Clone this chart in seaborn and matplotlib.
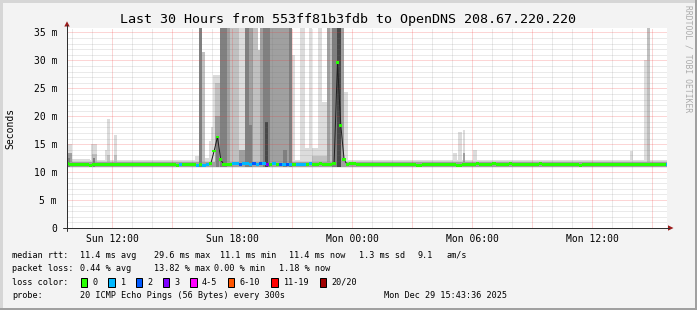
import numpy as np
import pandas as pd
import matplotlib
matplotlib.use("Agg")
import matplotlib.pyplot as plt
from matplotlib.lines import Line2D
from matplotlib.patches import Rectangle, Polygon
from matplotlib.ticker import MultipleLocator, FuncFormatter
import seaborn as sns

# ---------------- data ----------------
title = "Last 30 Hours from 553ff81b3fdb to OpenDNS 208.67.220.220"
start_hour = -14.25          # first sample, hours relative to Mon 00:00
step_hours = 1 / 6           # 10-minute samples
x_range = [-14.273, 15.727]  # Sun 09:43:36 .. Mon 15:43:36

median_ms = [
    11.6, 11.4, 11.3, 11.3, 11.4, 11.3, 11.3, 11.2, 11.3, 11.3, 11.4, 11.3, 11.3, 11.3, 11.3, 11.4, 11.3, 11.4,
    11.4, 11.4, 11.3, 11.4, 11.4, 11.4, 11.3, 11.4, 11.3, 11.4, 11.3, 11.3, 11.4, 11.3, 11.3, 11.2, 11.3, 11.3,
    11.3, 11.3, 11.4, 11.2, 11.3, 11.2, 11.3, 11.5, 13.8, 16.3, 12.2, 11.3, 11.4, 11.4, 11.5, 11.5, 11.4, 11.5,
    11.5, 11.4, 11.5, 11.4, 11.5, 11.5, 11.4, 11.4, 11.5, 11.4, 11.4, 11.3, 11.3, 11.3, 11.4, 11.3, 11.3, 11.3,
    11.4, 11.5, 11.4, 11.4, 11.5, 11.4, 11.4, 11.4, 11.6, 29.6, 18.4, 12.2, 11.3, 11.6, 11.5, 11.4, 11.4, 11.4,
    11.4, 11.3, 11.4, 11.4, 11.4, 11.3, 11.4, 11.4, 11.4, 11.4, 11.3, 11.4, 11.3, 11.4, 11.4, 11.2, 11.2, 11.3,
    11.3, 11.4, 11.4, 11.3, 11.4, 11.4, 11.3, 11.4, 11.3, 11.2, 11.2, 11.3, 11.4, 11.4, 11.4, 11.5, 11.4, 11.4,
    11.4, 11.4, 11.5, 11.4, 11.4, 11.4, 11.4, 11.5, 11.4, 11.4, 11.4, 11.3, 11.4, 11.4, 11.4, 11.4, 11.5, 11.4,
    11.4, 11.4, 11.3, 11.4, 11.4, 11.4, 11.3, 11.4, 11.4, 11.4, 11.2, 11.3, 11.4, 11.4, 11.3, 11.4, 11.4, 11.4,
    11.4, 11.4, 11.3, 11.4, 11.4, 11.4, 11.4, 11.3, 11.4, 11.4, 11.4, 11.4, 11.4, 11.3, 11.4, 11.4, 11.4, 11.4, 11.4,
]

loss_count = [
    0, 0, 0, 0, 0, 0, 0, 0, 0, 0, 0, 0, 0, 0, 0, 0, 0, 0,
    0, 0, 0, 0, 0, 0, 0, 0, 0, 0, 0, 0, 0, 0, 0, 0, 1, 0,
    0, 0, 0, 1, 0, 1, 1, 0, 0, 0, 0, 0, 0, 0, 1, 1, 2, 1,
    1, 1, 2, 1, 2, 1, 3, 0, 1, 0, 2, 1, 2, 1, 0, 1, 1, 1,
    0, 1, 0, 0, 0, 0, 0, 0, 0, 0, 0, 0, 0, 0, 0, 0, 0, 0,
    0, 0, 0, 0, 0, 0, 0, 0, 0, 0, 0, 0, 0, 0, 0, 0, 0, 0,
    0, 0, 0, 0, 0, 0, 0, 0, 0, 0, 0, 0, 0, 0, 0, 0, 0, 0,
    0, 0, 0, 0, 0, 0, 0, 0, 0, 0, 0, 0, 0, 0, 0, 0, 0, 0,
    0, 0, 0, 0, 0, 0, 0, 0, 0, 0, 0, 0, 0, 0, 0, 0, 0, 0,
    0, 0, 0, 0, 0, 0, 0, 0, 0, 0, 0, 0, 0, 0, 0, 0, 0, 0, 1,
]

# smoke stripes: time span (hours), top of ping spread (ms), density layer (1 = sparse .. 5 = dense)
smoke_floor_ms = 10.9
smoke_start_h = [-14.275, -14.275,
                 -14.275, -14.275, -14.275, -14.025, -13.075, -13.025, -12.975,
                 -12.375, -12.275, -12.275, -11.925, -11.925, -7.875,
                 -7.675, -7.5, -7.375, -7.175, -7.075, -6.975, -6.875, -6.875, -6.825,
                 -6.625, -6.275, -6.125, -6.025, -5.675, -5.675, -5.375, -5.175, -4.975,
                 -4.725, -4.625, -4.475, -4.125, -3.725, -3.475, -3.175, -5.175, -4.375,
                 -3.475, -3.0, -2.875, -2.525,
                 -2.625, -2.375, -2.175, -2.025, -2.025, -1.725, -1.525, -1.275, -1.125,
                 -1.025, -0.775, -0.575, -0.425,
                 5.025, 5.275, 5.525, 5.525, 6.025, 13.875, 14.575, 14.725]
smoke_end_h = [15.727, 15.727,
               -14.025, -14.025, -14.125, -13.125, -12.775, -12.775, -12.875,
               -12.275, -12.125, -12.125, -11.775, -11.775, -7.675,
               -7.5, -7.375, -7.175, -7.075, -6.975, -6.625, -6.625, -6.625, -6.675,
               -6.275, -6.125, -6.025, -5.675, -5.375, -5.375, -5.175, -4.975, -4.725,
               -4.625, -4.475, -4.125, -3.725, -3.175, -3.325, -3.0, -5.025, -4.225,
               -3.275, -2.875, -2.525, -2.375,
               -2.375, -2.175, -2.025, -1.725, -1.125, -1.525, -1.275, -1.125, -1.025,
               -0.775, -0.575, -0.425, -0.225,
               5.225, 5.475, 5.625, 5.625, 6.225, 14.025, 14.725, 14.875]
smoke_top_ms = [12.2, 11.85,
                15.0, 13.5, 12.5, 12.3, 15.0, 13.2, 12.5,
                14.0, 19.5, 13.0, 16.6, 13.0, 12.8,
                36.0, 31.5, 12.5, 15.5, 18.0, 27.3, 26.0, 20.0, 16.5,
                36.0, 36.0, 36.0, 36.0, 36.0, 14.0, 36.0, 36.0, 36.0,
                31.8, 36.0, 36.0, 36.0, 36.0, 36.0, 36.0, 18.4, 19.0,
                14.0, 31.0, 12.2, 36.0,
                36.0, 14.3, 36.0, 14.3, 12.8, 36.0, 22.6, 36.0, 36.0,
                36.0, 36.0, 36.0, 24.3,
                13.4, 17.2, 17.5, 13.4, 14.0, 13.8, 30.0, 36.0]
smoke_layer = [1, 3,
               1, 3, 4, 1, 1, 2, 4,
               1, 1, 2, 1, 2, 1,
               4, 2, 1, 1, 1, 1, 2, 3, 4,
               4, 3, 2, 2, 1, 3, 4, 3, 2,
               2, 3, 4, 3, 3, 2, 4, 4, 5,
               4, 1, 1, 1,
               1, 1, 1, 1, 2, 1, 1, 3, 2,
               4, 5, 3, 1,
               1, 1, 1, 3, 1, 1, 1, 2]

x_tick_hours = [-12, -6, 0, 6, 12]
x_tick_labels = ["Sun 12:00", "Sun 18:00", "Mon 00:00", "Mon 06:00", "Mon 12:00"]
y_tick_values = [0, 5, 10, 15, 20, 25, 30, 35]
y_tick_labels = ["0", "5 m", "10 m", "15 m", "20 m", "25 m", "30 m", "35 m"]
y_range = [0, 35.8]

loss_class_labels = ["0", "1", "2", "3", "4-5", "6-10", "11-19", "20/20"]
loss_class_colors = ["#26ff00", "#00b8ff", "#0059ff", "#7e00ff", "#ff00ff", "#ff5500", "#ff0000", "#a10000"]

legend_rows = [
    ["median rtt:", "11.4 ms avg", "29.6 ms max", "11.1 ms min", "11.4 ms now", "1.3 ms sd", "9.1", "am/s"],
    ["packet loss:", "0.44 % avg", "13.82 % max", "0.00 % min", "1.18 % now"],
    ["probe:", "20 ICMP Echo Pings (56 Bytes) every 300s", "Mon Dec 29 15:43:36 2025"],
]
side_text = "RRDTOOL / TOBI OETIKER"

# ---------------- style ----------------
sns.set_theme(style="white")
plt.rcParams["font.family"] = ["DejaVu Sans Mono", "DejaVu Sans"]

W, H = 697, 310
BG = "#f3f3f3"
fig = plt.figure(figsize=(W / 100, H / 100), dpi=100, facecolor=BG)


def fx(x):
    return x / W


def fy(y):
    return 1 - y / H


PX = 72 / 100  # points per pixel

# frame
fig.add_artist(Rectangle((0, fy(2.5)), 1, 2.5 / H, transform=fig.transFigure, color="#d6d6d6", lw=0))
fig.add_artist(Rectangle((0, 0), fx(2.5), 1, transform=fig.transFigure, color="#d6d6d6", lw=0))
fig.add_artist(Rectangle((0, 0), 1, 2.5 / H, transform=fig.transFigure, color="#a0a0a0", lw=0))
fig.add_artist(Rectangle((fx(W - 2.5), 0), fx(2.5), 1, transform=fig.transFigure, color="#a0a0a0", lw=0))

ax = fig.add_axes([fx(67), fy(228), 600 / W, 200 / H])
ax.set_facecolor("white")

hours = start_hour + np.arange(len(median_ms)) * step_hours

# smoke
layer_colors = {1: "#dcdcdc", 2: "#c0c0c0", 3: "#a0a0a0", 4: "#808080", 5: "#484848"}
smoke = pd.DataFrame({"start": smoke_start_h, "end": smoke_end_h, "top": smoke_top_ms, "layer": smoke_layer})
for layer in sorted(smoke["layer"].unique()):
    sub = smoke[smoke["layer"] == layer]
    ax.bar(sub["start"], sub["top"] - smoke_floor_ms, width=sub["end"] - sub["start"],
           bottom=smoke_floor_ms, align="edge", color=layer_colors[layer], linewidth=0, zorder=1)


# median line (black) and loss-coloured median blocks
def loss_class(n):
    if n <= 3:
        return n
    if n <= 5:
        return 4
    if n <= 10:
        return 5
    if n <= 19:
        return 6
    return 7


med = pd.DataFrame({"hour": hours, "median": median_ms})
sns.lineplot(data=med, x="hour", y="median", ax=ax, color="#202020", linewidth=PX, zorder=3, legend=False)
block_h = 0.5
ax.bar(hours, block_h, bottom=np.array(median_ms) - block_h / 2, width=step_hours,
       color=[loss_class_colors[loss_class(c)] for c in loss_count], linewidth=0, zorder=4)

ax.set_xlim(*x_range)
ax.set_ylim(*y_range)
ax.set_xlabel("")
ax.set_ylabel("")

# grid (drawn over the smoke like rrdtool)
ax.set_axisbelow(False)
ax.xaxis.set_major_locator(MultipleLocator(3))
ax.xaxis.set_minor_locator(MultipleLocator(1))
ax.yaxis.set_major_locator(MultipleLocator(5))
ax.yaxis.set_minor_locator(MultipleLocator(1))
ax.grid(which="minor", color="#707070", alpha=0.28, linestyle=(0, (1, 1)), linewidth=PX)
ax.grid(which="major", color="#f03030", alpha=0.4, linestyle=(0, (1, 1)), linewidth=PX)

xmap = dict(zip(x_tick_hours, x_tick_labels))
ymap = dict(zip(y_tick_values, y_tick_labels))
ax.xaxis.set_major_formatter(FuncFormatter(lambda v, p: xmap.get(int(round(v)), "")))
ax.yaxis.set_major_formatter(FuncFormatter(lambda v, p: ymap.get(int(round(v)), "")))
ax.tick_params(which="major", direction="out", length=3 * PX, width=PX, color="#404040",
               labelsize=7, labelcolor="black")
ax.tick_params(which="minor", direction="out", length=2 * PX, width=PX, color="#404040")
ax.tick_params(axis="x", which="major", pad=2.0)
ax.tick_params(axis="y", which="major", pad=5.0)
for s in ax.spines.values():
    s.set_visible(False)

# axis lines and arrows
fig.add_artist(Line2D([fx(63), fx(669)], [fy(228), fy(228)], transform=fig.transFigure, color="#303030", lw=PX))
fig.add_artist(Line2D([fx(67), fx(67)], [fy(231), fy(25)], transform=fig.transFigure, color="#303030", lw=PX))
arrow_c = "#9b1c1c"
fig.add_artist(Polygon([[fx(64.3), fy(26.5)], [fx(69.7), fy(26.5)], [fx(67), fy(21.3)]],
                       closed=True, transform=fig.transFigure, color=arrow_c, lw=0))
fig.add_artist(Polygon([[fx(668), fy(225.3)], [fx(668), fy(230.7)], [fx(673.5), fy(228)]],
                       closed=True, transform=fig.transFigure, color=arrow_c, lw=0))

# texts
fig.text(fx(347.5), fy(19), title, ha="center", va="center", fontsize=9.6, color="black")
fig.text(fx(10), fy(128), "Seconds", rotation=90, ha="center", va="center", fontsize=7, color="black")
fig.text(fx(688), fy(59), side_text, rotation=270, ha="center", va="center", fontsize=5.8, color="#ababab")

LF = 6.1
row_y = [255, 268.7, 296]
row_x = [
    [12, 80.3, 153.6, 219.6, 289, 358.6, 418, 446.5],
    [12, 80.3, 153.6, 213.6, 279],
    [12, 80.3, 384],
]
for ry, xs, texts in zip(row_y, row_x, legend_rows):
    for x, t in zip(xs, texts):
        fig.text(fx(x), fy(ry), t, ha="left", va="center", fontsize=LF, color="black")

# loss colour legend
ly = 282.3
fig.text(fx(12), fy(ly), "loss color:", ha="left", va="center", fontsize=LF, color="black")
cw = 5.27
bx = 81.0
for lab, col in zip(loss_class_labels, loss_class_colors):
    fig.add_artist(Rectangle((fx(bx), fy(ly + 4.3)), 6.3 / W, 8.6 / H, transform=fig.transFigure,
                             facecolor=col, edgecolor="black", lw=PX))
    tx = bx + 11.5
    fig.text(fx(tx), fy(ly), lab, ha="left", va="center", fontsize=LF, color="black")
    bx = tx + (len(lab) + 2) * cw

fig.savefig("out.png", dpi=100, facecolor=BG)
